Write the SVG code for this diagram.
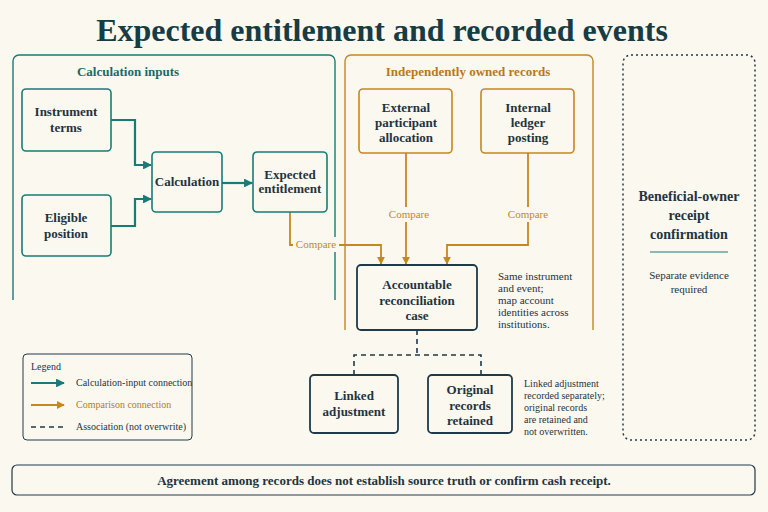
<svg xmlns="http://www.w3.org/2000/svg" width="768" height="512" viewBox="0 0 768 512">
<defs>
<marker id="at" viewBox="0 0 10 10" refX="9" refY="5" markerWidth="4" markerHeight="4" orient="auto"><path d="M0,0L10,5L0,10z" fill="#1a7a78"/></marker>
<marker id="ao" viewBox="0 0 10 10" refX="9" refY="5" markerWidth="4.5" markerHeight="4.5" orient="auto"><path d="M0,0L10,5L0,10z" fill="#c8861e"/></marker>
</defs>
<style>
text{font-family:"Liberation Serif","DejaVu Serif",serif;fill:#1f3440}
.t{fill:#fbf8f0;stroke:#1a7a78;stroke-width:1.6}
.o{fill:#fbf8f0;stroke:#c8861e;stroke-width:1.6}
.n{fill:#fbf8f0;stroke:#1f3a4a;stroke-width:1.8}
.b{font-size:13px;font-weight:bold;text-anchor:middle}
.s{font-size:11px}
.ct{fill:none;stroke:#1a7a78;stroke-width:2.2;marker-end:url(#at)}
.co{fill:none;stroke:#c8861e;stroke-width:1.8;marker-end:url(#ao)}
.cd{fill:none;stroke:#1f3a4a;stroke-width:1.6;stroke-dasharray:5 4}
.ol{fill:#c8861e;font-size:11px;text-anchor:middle}
</style>
<rect width="768" height="512" fill="#fbf8f0"/>
<text x="382" y="41" font-size="32" font-weight="bold" text-anchor="middle" style="fill:#163c44">Expected entitlement and recorded events</text>
<g id="panel-calc"><path d="M13,300V61a6,6 0 0 1 6,-6H329a6,6 0 0 1 6,6V300" fill="none" stroke="#1a7a78" stroke-width="1.4"/><text x="128" y="76" font-size="13" font-weight="bold" text-anchor="middle" style="fill:#1a6a6a">Calculation inputs</text></g>
<g id="panel-records"><path d="M345,330V61a6,6 0 0 1 6,-6H587a6,6 0 0 1 6,6V330" fill="none" stroke="#c8861e" stroke-width="1.4"/><text x="468" y="76" style="fill:#b8781a" font-size="13" font-weight="bold" text-anchor="middle">Independently owned records</text></g>
<g id="panel-bo"><rect x="623" y="55" width="132" height="385" rx="8" fill="none" stroke="#1f3a4a" stroke-width="1.5" stroke-dasharray="2 3"/>
<text x="689" y="201" class="b" style="font-size:14px">Beneficial-owner</text><text x="689" y="220" class="b" style="font-size:14px">receipt</text><text x="689" y="239" class="b" style="font-size:14px">confirmation</text>
<line x1="650" y1="252" x2="728" y2="252" stroke="#1a7a78" stroke-width="1"/>
<text x="689" y="279" class="s" text-anchor="middle">Separate evidence</text><text x="689" y="293" class="s" text-anchor="middle">required</text></g>
<g id="connectors">
<path class="ct" d="M111,120H135V165H151"/>
<path class="ct" d="M111,226H135V199H151"/>
<path class="ct" d="M222,183H252"/>
<path class="co" d="M290,212V245H381V264"/>
<path class="co" d="M406,153V264"/>
<path class="co" d="M528,153V245H447V264"/>
<path class="cd" d="M417,330V355M354,375V355H481V375"/>
</g>
<rect x="293" y="237" width="46" height="15" fill="#fbf8f0"/><text x="316" y="248" class="ol">Compare</text>
<rect x="386" y="207" width="46" height="15" fill="#fbf8f0"/><text x="409" y="218" class="ol">Compare</text>
<rect x="505" y="207" width="46" height="15" fill="#fbf8f0"/><text x="528" y="218" class="ol">Compare</text>
<g id="instrument-terms"><rect class="t" x="22" y="89" width="89" height="62" rx="4"/><text x="66" y="116" class="b">Instrument</text><text x="66" y="132" class="b">terms</text></g>
<g id="eligible-position"><rect class="t" x="22" y="195" width="89" height="61" rx="4"/><text x="66" y="222" class="b">Eligible</text><text x="66" y="238" class="b">position</text></g>
<g id="calculation"><rect class="t" x="152" y="152" width="70" height="60" rx="4"/><text x="187" y="186" class="b">Calculation</text></g>
<g id="expected-entitlement"><rect class="t" x="253" y="152" width="74" height="60" rx="4"/><text x="290" y="179" class="b">Expected</text><text x="290" y="193" class="b">entitlement</text></g>
<g id="external"><rect class="o" x="359" y="89" width="93" height="64" rx="4"/><text x="406" y="112" class="b">External</text><text x="406" y="127" class="b">participant</text><text x="406" y="142" class="b">allocation</text></g>
<g id="internal"><rect class="o" x="481" y="89" width="93" height="64" rx="4"/><text x="528" y="112" class="b">Internal</text><text x="528" y="127" class="b">ledger</text><text x="528" y="142" class="b">posting</text></g>
<g id="case"><rect class="n" x="357" y="265" width="120" height="65" rx="4"/><text x="417" y="289" class="b">Accountable</text><text x="417" y="305" class="b">reconciliation</text><text x="417" y="320" class="b">case</text>
<text x="498" y="280" class="s">Same instrument</text><text x="498" y="292" class="s">and event;</text><text x="498" y="304" class="s">map account</text><text x="498" y="316" class="s">identities across</text><text x="498" y="328" class="s">institutions.</text></g>
<g id="linked-adjustment"><rect class="n" x="310" y="375" width="88" height="58" rx="4"/><text x="354" y="400" class="b">Linked</text><text x="354" y="416" class="b">adjustment</text></g>
<g id="original-records"><rect class="n" x="428" y="375" width="84" height="58" rx="4"/><text x="470" y="394" class="b">Original</text><text x="470" y="410" class="b">records</text><text x="470" y="425" class="b">retained</text>
<text x="524" y="387" style="font-size:10px">Linked adjustment</text><text x="524" y="399" style="font-size:10px">recorded separately;</text><text x="524" y="411" style="font-size:10px">original records</text><text x="524" y="423" style="font-size:10px">are retained and</text><text x="524" y="435" style="font-size:10px">not overwritten.</text></g>
<g id="legend"><rect x="23" y="354" width="169" height="86" rx="4" fill="#fbf8f0" stroke="#1f3a4a" stroke-width="1"/>
<text x="31" y="370" style="font-size:10px">Legend</text>
<line x1="31" y1="383" x2="64" y2="383" class="ct" stroke-width="2"/><text x="76" y="386" style="font-size:10px">Calculation-input connection</text>
<line x1="31" y1="405" x2="64" y2="405" class="co"/><text x="76" y="408" style="font-size:10px;fill:#b8781a">Comparison connection</text>
<line x1="31" y1="427" x2="64" y2="427" class="cd"/><text x="76" y="430" style="font-size:10px">Association (not overwrite)</text></g>
<g id="banner"><rect x="12" y="465" width="743" height="30" rx="5" fill="#fbf8f0" stroke="#1f3a4a" stroke-width="1.2"/><text x="384" y="485" class="b" style="font-size:13px">Agreement among records does not establish source truth or confirm cash receipt.</text></g>
</svg>
